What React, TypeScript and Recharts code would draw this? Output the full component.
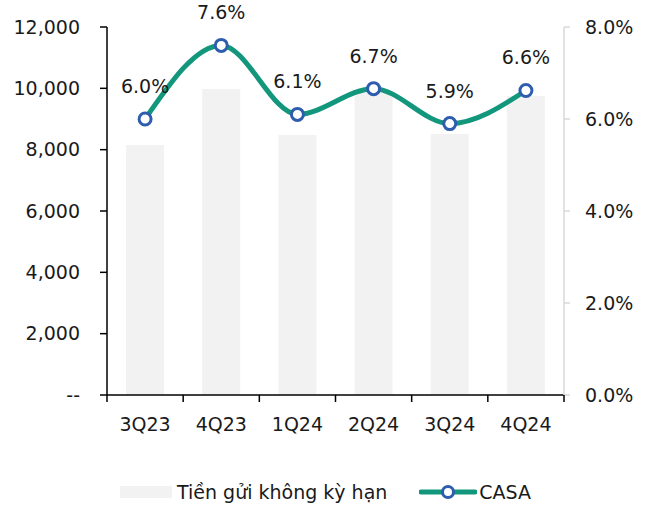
import React from 'react';
import { ComposedChart, Bar, Line, XAxis, YAxis, LabelList, Legend } from 'recharts';

const categories = ['3Q23', '4Q23', '1Q24', '2Q24', '3Q24', '4Q24'];
const deposits = [8150, 9980, 8480, 9850, 8510, 9750];
const casa = [0.06, 0.076, 0.061, 0.0666, 0.059, 0.0662];
const leftTicks = [0, 2000, 4000, 6000, 8000, 10000, 12000];
const rightTicks = [0, 0.02, 0.04, 0.06, 0.08];

const data = categories.map((c, i) => ({ cat: c, deposits: deposits[i], casa: casa[i] }));

const FONT = 'DejaVu Sans';
const FS = 19;
const TEXT = '#1a1a1a';
const TEAL = '#12977D';
const BLUE = '#2E5DAF';
const BARFILL = '#F2F2F2';

const XTick = (props: any) => {
  const { x, y, payload, index, visibleTicksCount, width } = props;
  const half = payload && payload.offset ? payload.offset : (width / (visibleTicksCount || 6)) / 2;
  const ticks = [x - half];
  if (index === (visibleTicksCount || 6) - 1) ticks.push(x + half);
  return (
    <g>
      {ticks.map((tx, i) => (
        <line key={i} x1={tx} x2={tx} y1={y - 8} y2={y - 1} stroke="#000" strokeWidth={1.5} />
      ))}
      <text x={x} y={y + 28} textAnchor="middle" fontFamily={FONT} fontSize={FS} fill={TEXT}>
        {payload.value}
      </text>
    </g>
  );
};

const PctLabel = (props: any) => {
  const { x, y, value } = props;
  return (
    <text x={x} y={y - 26} textAnchor="middle" fontFamily={FONT} fontSize={FS} fill={TEXT}>
      {(value * 100).toFixed(1) + '%'}
    </text>
  );
};

const LegendContent = () => (
  <div style={{ height: 28, display: 'flex', alignItems: 'center', fontFamily: FONT, fontSize: FS, color: TEXT }}>
    <div style={{ width: 52, height: 12, background: BARFILL, marginLeft: 120, marginRight: 5 }} />
    <span>Tiền gửi không kỳ hạn</span>
    <svg width={58} height={20} style={{ marginLeft: 32 }}>
      <line x1={2} x2={56} y1={10} y2={10} stroke={TEAL} strokeWidth={5} strokeLinecap="round" />
      <circle cx={29} cy={10} r={5.5} fill="#fff" stroke={BLUE} strokeWidth={3} />
    </svg>
    <span style={{ marginLeft: 2 }}>CASA</span>
  </div>
);

export default function App() {
  return (
    <div style={{ position: 'absolute', left: 0, top: 0, background: '#fff' }}>
      <ComposedChart
        width={653}
        height={506}
        data={data}
        margin={{ top: 27, right: 0, bottom: 0, left: 0 }}
        barCategoryGap="25%"
      >
        <XAxis
          dataKey="cat"
          xAxisId={0}
          interval={0}
          height={83}
          axisLine={{ stroke: '#000', strokeWidth: 1.5 }}
          tickLine={false}
          tick={<XTick />}
        />
        <YAxis
          yAxisId="left"
          orientation="left"
          width={107}
          domain={[0, 12000]}
          ticks={leftTicks}
          interval={0}
          tickSize={7}
          tickMargin={20}
          axisLine={{ stroke: '#000', strokeWidth: 1.5 }}
          tickLine={{ stroke: '#000', strokeWidth: 1.5 }}
          tick={{ fontFamily: FONT, fontSize: FS, fill: TEXT }}
          tickFormatter={(v: number) => (v === 0 ? '--' : v.toLocaleString('en-US'))}
        />
        <YAxis
          yAxisId="right"
          orientation="right"
          width={89}
          domain={[0, 0.08]}
          ticks={rightTicks}
          interval={0}
          tickSize={6}
          tickMargin={15}
          axisLine={{ stroke: '#D9D9D9', strokeWidth: 1.5 }}
          tickLine={{ stroke: '#D9D9D9', strokeWidth: 1.5 }}
          tick={{ fontFamily: FONT, fontSize: FS, fill: TEXT }}
          tickFormatter={(v: number) => (v * 100).toFixed(1) + '%'}
        />
        <Bar dataKey="deposits" yAxisId="left" fill={BARFILL} isAnimationActive={false} name="Tiền gửi không kỳ hạn" />
        <Line
          dataKey="casa"
          yAxisId="right"
          type="monotone"
          stroke={TEAL}
          strokeWidth={5}
          dot={{ r: 6, fill: '#fff', stroke: BLUE, strokeWidth: 3 }}
          activeDot={false}
          isAnimationActive={false}
          name="CASA"
        >
          <LabelList dataKey="casa" content={<PctLabel />} />
        </Line>
        <Legend verticalAlign="bottom" content={<LegendContent />} />
      </ComposedChart>
    </div>
  );
}
